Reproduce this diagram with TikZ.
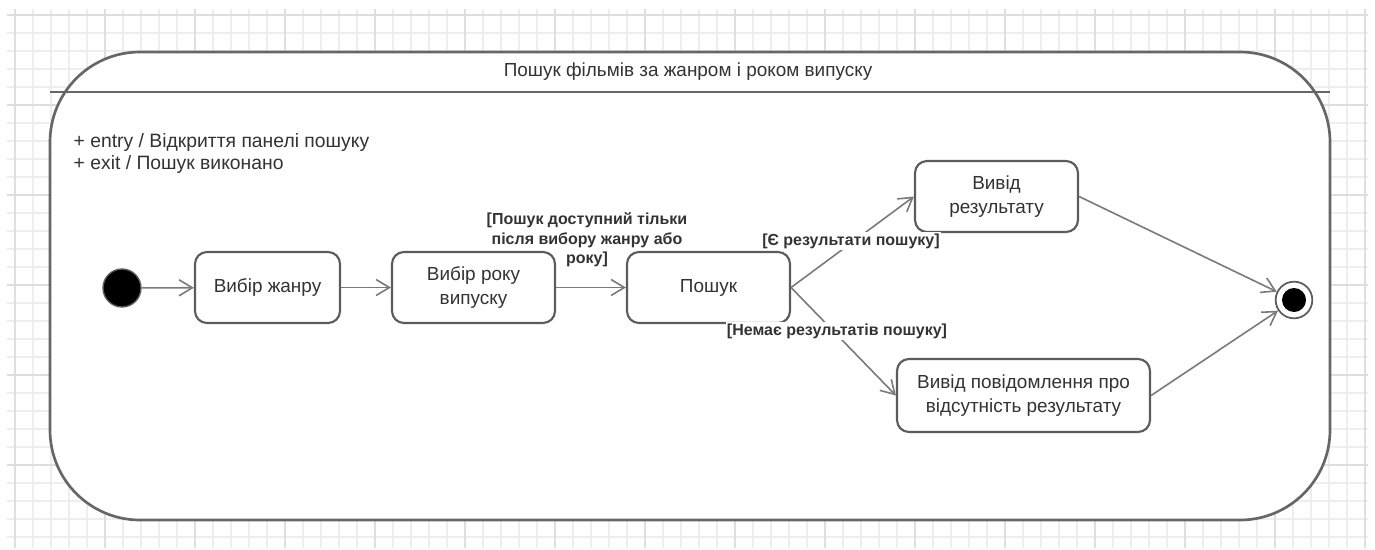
\documentclass[tikz,border=0pt]{standalone}
\usepackage{fontspec}
\setmainfont{Liberation Sans}
\usetikzlibrary{arrows.meta}

\definecolor{gridminor}{HTML}{EEEEEE}
\definecolor{gridmajor}{HTML}{DEDEDE}
\definecolor{frameline}{HTML}{666666}
\definecolor{boxline}{HTML}{5C5C5C}
\definecolor{arrowline}{HTML}{7A7A7A}
\definecolor{ink}{HTML}{333333}

\begin{document}
\begin{tikzpicture}[x=0.75pt, y=-0.75pt,
  state/.style={draw=boxline, line width=1.6pt, rounded corners=9pt, fill=white,
    minimum width=122.25pt, minimum height=53.25pt, align=center, text=ink,
    font=\fontsize{14.2}{18.5}\selectfont},
  trans/.style={draw=arrowline, line width=1.2pt,
    -{Straight Barb[length=10pt, width=12pt, line width=1.2pt]}},
  guard/.style={inner sep=1pt, align=center, text=ink,
    font=\bfseries\fontsize{12}{14.5}\selectfont}]
\useasboundingbox (0,0) rectangle (1375,550);
\fill[white] (0,0) rectangle (1375,550);

% grid paper
\foreach \k in {0,...,75}
  \draw[gridminor, line width=1pt] (15+18*\k, 9) -- (15+18*\k, 548);
\foreach \k in {0,...,29}
  \draw[gridminor, line width=1pt] (7, 15+18*\k) -- (1368, 15+18*\k);
\foreach \k in {0,5,...,75}
  \draw[gridmajor, line width=1pt] (15+18*\k, 9) -- (15+18*\k, 548);
\foreach \k in {0,5,...,25}
  \draw[gridmajor, line width=1pt] (7, 15+18*\k) -- (1368, 15+18*\k);

%%%%%%%%%%%%%%%%%%%%%%%%%%%%%%%%%%%%%%%%

% composite state
\draw[frameline, line width=2pt, fill=white, rounded corners=67.5pt]
  (50,52) rectangle (1330,520);
\draw[frameline, line width=2pt] (50,92) -- (1330,92);
\node[text=ink, font=\fontsize{14.2}{16}\selectfont] (title) at (688,72)
  {Пошук фільмів за жанром і роком випуску};
\node[anchor=west, align=left, text=ink, font=\fontsize{14.5}{16.5}\selectfont]
  (acts) at (69,153) {+ entry / Відкриття панелі пошуку\\+ exit / Пошук виконано};

%%%%%%%%%%%%%%%%%%%%%%%%%%%%%%%%%%%%%%%%

\node[circle, fill=black, draw=boxline, line width=1pt, minimum size=28.5pt,
  inner sep=0pt] (init) at (122,288) {};
\node[circle, draw=boxline, line width=1.3pt, fill=white, minimum size=27.5pt,
  inner sep=0pt] (final) at (1294,300) {};
\fill[black] (final.center) circle (9pt);

\node[state, minimum width=108.75pt] (genre) at (267.5,287.5) {Вибір жанру};
\node[state] (year) at (473.5,287.5) {Вибір року\\випуску};
\node[state] (search) at (708.5,287.5) {Пошук};
\node[state] (result) at (996.5,196.5) {Вивід\\результату};
\node[state, minimum width=189.75pt, minimum height=54.75pt] (empty)
  at (1023.5,395.5) {Вивід повідомлення про\\відсутність результату};

\draw[trans] (init) -- (genre);
\draw[trans] (genre) -- (year);
\draw[trans] (year) -- (search);
\draw[trans] (search.east) -- (result.west);
\draw[trans] (search.east) -- (empty.west);
\draw[trans] (result.east) -- (final);
\draw[trans] (empty.east) -- (final);

% guards
\node[guard] (g1) at (587,240)
  {[Пошук доступний тільки\\після вибору жанру або\\року]};
\node[guard, fill=white] (g2) at (851,241) {[Є результати пошуку]};
\node[guard, fill=white] (g3) at (837,331) {[Немає результатів пошуку]};

\end{tikzpicture}
\end{document}
